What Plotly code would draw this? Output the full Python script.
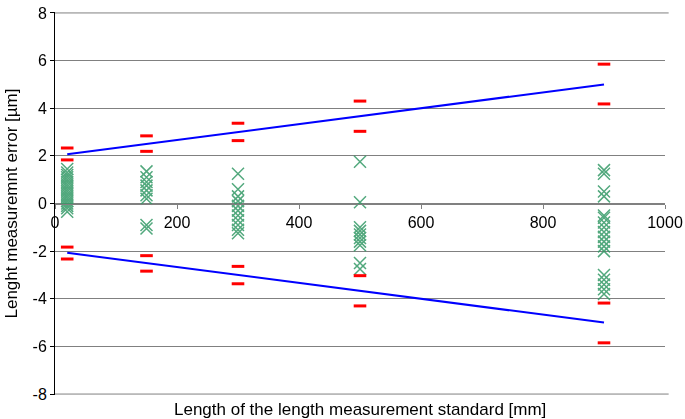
import plotly.graph_objects as go

# Standard lengths [mm]
lengths = [20, 150, 300, 500, 900]

# Measured errors [µm] (green crosses), per standard length
err_20 = [1.45, 1.3, 1.2, 1.1, 1.0, 0.9, 0.8, 0.7, 0.6, 0.5, 0.4, 0.3, 0.2, 0.1, 0.0, -0.1, -0.2, -0.35]
err_150 = [1.35, 1.1, 0.9, 0.75, 0.55, 0.35, 0.2, -0.9, -1.05]
err_300 = [1.25, 0.6, 0.3, 0.1, -0.1, -0.3, -0.5, -0.7, -0.9, -1.1, -1.25]
err_500 = [1.75, 0.05, -1.0, -1.15, -1.3, -1.45, -1.6, -1.75, -2.5, -2.75]
err_900 = [1.4, 1.25, 0.5, 0.3, -0.5, -0.6, -0.8, -1.0, -1.2, -1.4, -1.6, -1.8, -2.0,
           -3.0, -3.2, -3.4, -3.6, -3.8]

# Red limit dashes [µm]
dash_outer = [2.33, 2.84, 3.37, 4.3, 5.85]
dash_inner = [1.83, 2.19, 2.64, 3.03, 4.18]

# Blue limit lines (endpoints)
limit_x = [20, 900]
limit_upper = [2.07, 5.0]
limit_lower = [-2.07, -5.0]

x_ticks = [0, 200, 400, 600, 800, 1000]
y_ticks = [-8, -6, -4, -2, 0, 2, 4, 6, 8]

groups = [err_20, err_150, err_300, err_500, err_900]
gx, gy = [], []
for L, vals in zip(lengths, groups):
    gx += [L] * len(vals)
    gy += vals

fig = go.Figure()
fig.add_trace(go.Scatter(x=limit_x, y=limit_upper, mode="lines",
                         line=dict(color="#0000FF", width=2), showlegend=False))
fig.add_trace(go.Scatter(x=limit_x, y=limit_lower, mode="lines",
                         line=dict(color="#0000FF", width=2), showlegend=False))
fig.add_trace(go.Scatter(x=gx, y=gy, mode="markers",
                         marker=dict(symbol="x-thin-open", size=12, color="#339966",
                                     line=dict(color="#339966", width=1.5)),
                         opacity=0.85, showlegend=False))
rx, ry = [], []
for L, o, i in zip(lengths, dash_outer, dash_inner):
    rx += [L, L, L, L]
    ry += [o, i, -i, -o]
fig.add_trace(go.Scatter(x=rx, y=ry, mode="markers",
                         marker=dict(symbol="line-ew-open", size=9, color="#FF0000",
                                     line=dict(color="#FF0000", width=3)),
                         showlegend=False))

# gridlines at the top and bottom edges of the plot area
for yv in (y_ticks[0], y_ticks[-1]):
    fig.add_shape(type="line", xref="paper", x0=0, x1=1.006, yref="y", y0=yv, y1=yv,
                  line=dict(color="#808080", width=1), layer="below")

font = "Liberation Sans, Arial, sans-serif"
fig.update_layout(
    width=685, height=419,
    margin=dict(l=55, r=20, t=12, b=24, autoexpand=False),
    paper_bgcolor="white", plot_bgcolor="white",
    font=dict(family=font, size=16, color="black"),
    xaxis=dict(range=[0, 1000], tickvals=x_ticks, ticktext=[str(v) for v in x_ticks],
               anchor="free", position=0.5, showgrid=False, zeroline=False,
               showline=True, linecolor="#808080", linewidth=1, automargin=False,
               ticks="outside", ticklen=4, tickcolor="#808080",
               tickfont=dict(size=16)),
    yaxis=dict(range=[-8.04, 8.04], tickvals=y_ticks, ticktext=[str(v) for v in y_ticks],
               showgrid=True, gridcolor="#808080", gridwidth=1, zeroline=False,
               showline=True, linecolor="black", linewidth=1, automargin=False,
               ticks="outside", ticklen=4, tickcolor="black",
               tickfont=dict(size=16)),
    annotations=[
        dict(text="Length of the length measurement standard [mm]",
             xref="paper", yref="paper", x=0.5, y=-0.037,
             xanchor="center", yanchor="middle", showarrow=False,
             font=dict(size=17)),
        dict(text="Lenght measuremnt error [µm]", textangle=-90,
             xref="paper", yref="paper", x=-0.0705, y=0.5,
             xanchor="center", yanchor="middle", showarrow=False,
             font=dict(size=17)),
    ],
)
fig.write_html("out.html", config={"displayModeBar": False},
               post_script="document.body.style.margin='0';")
